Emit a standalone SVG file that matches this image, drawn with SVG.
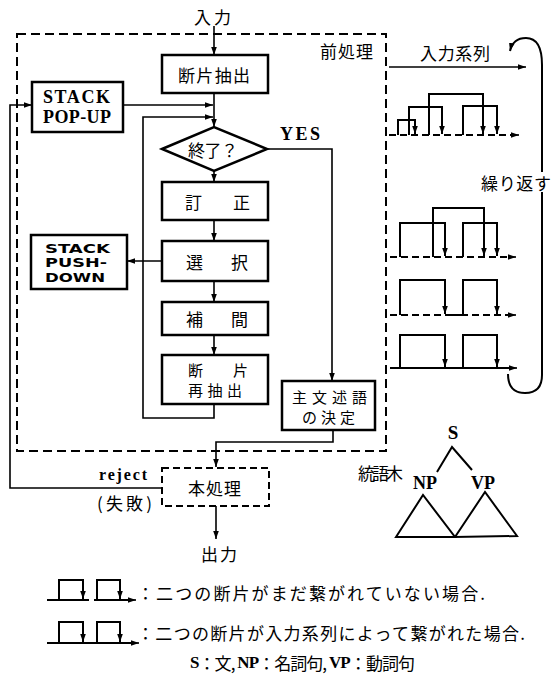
<svg xmlns="http://www.w3.org/2000/svg" width="552" height="677" viewBox="0 0 552 677">
<defs>
<marker id="ah" viewBox="0 0 10 10" refX="10" refY="5" markerWidth="8" markerHeight="8" markerUnits="userSpaceOnUse" orient="auto"><path d="M0,1.5 L10,5 L0,8.5 z" fill="#000"/></marker>
</defs>
<style>
.box{fill:#fff;stroke:#000;stroke-width:2.5}
.dbox{fill:none;stroke:#000;stroke-width:2;stroke-dasharray:9 5}
.ln{fill:none;stroke:#000;stroke-width:1.6}
.br{fill:none;stroke:#000;stroke-width:2}
.dl{fill:none;stroke:#000;stroke-width:2;stroke-dasharray:7 4}
.jp{font-family:"Noto Sans CJK JP",sans-serif;font-size:17px;fill:#000;dominant-baseline:central}
.jp2{font-family:"Noto Sans CJK JP",sans-serif;font-size:15px;fill:#000;dominant-baseline:central}
.en{font-family:"Liberation Serif",serif;font-weight:bold;fill:#000}
.ent{font-family:"Liberation Serif",serif;font-weight:bold}
.gs{font-family:"DejaVu Sans",sans-serif;font-weight:bold;font-size:13px;fill:#000}
</style>
<rect width="552" height="677" fill="#fff"/>

<g id="preprocess-frame">
<rect class="dbox" x="17" y="34" width="369" height="417"/>
<text class="jp" x="320" y="50" textLength="53">前処理</text>
</g>

<g id="connectors">
<path class="ln" d="M214,26 V55" marker-end="url(#ah)"/>
<path class="ln" d="M214,93 V127" marker-end="url(#ah)"/>
<path class="ln" d="M123,105 H213" marker-end="url(#ah)"/>
<path class="ln" d="M214,404 V418 H143 V117 H213" marker-end="url(#ah)"/>
<path class="ln" d="M214,171 V182" marker-end="url(#ah)"/>
<path class="ln" d="M214,220 V241" marker-end="url(#ah)"/>
<path class="ln" d="M214,281 V302" marker-end="url(#ah)"/>
<path class="ln" d="M214,335 V355" marker-end="url(#ah)"/>
<path class="ln" d="M163,261 H127" marker-end="url(#ah)"/>
<path class="ln" d="M267,149 H332 V381" marker-end="url(#ah)"/>
<path class="ln" d="M333,430 V442 H216 V467" marker-end="url(#ah)"/>
<path class="ln" d="M216,506 V539" marker-end="url(#ah)"/>
<path class="ln" d="M162,488 H10 V105 H32" marker-end="url(#ah)"/>
<path class="ln" d="M389,67 H526" marker-end="url(#ah)"/>
<path class="br" d="M542,172 V65 Q542,38 526,38 Q513,38 510,51" marker-end="url(#ah)"/>
<path class="br" d="M542,192 V375 Q542,393 525,393 Q508,393 508,374"/>
</g>

<g id="input-top"><text class="jp" x="194" y="16" textLength="37">入力</text></g>

<g id="node-extract">
<rect class="box" x="162" y="55" width="106" height="38"/>
<text class="jp" x="178" y="74" textLength="72">断片抽出</text>
</g>

<g id="node-popup">
<rect class="box" x="32" y="82" width="91" height="50"/>
<text class="en" x="43" y="103" font-size="18" textLength="67">STACK</text>
<text class="en" x="43" y="123" font-size="18" textLength="68">POP-UP</text>
</g>

<g id="node-end">
<polygon class="box" points="162,149 214,127 267,149 214,171"/>
<text class="jp" x="188" y="149" textLength="50">終了？</text>
</g>

<g id="label-yes"><text class="en" x="280" y="140" font-size="18" textLength="40">YES</text></g>

<g id="node-correct">
<rect class="box" x="162" y="182" width="106" height="38"/>
<text class="jp" x="185" y="201" textLength="65">訂　正</text>
</g>

<g id="node-select">
<rect class="box" x="162" y="241" width="106" height="40"/>
<text class="jp" x="186" y="261" textLength="62">選　択</text>
</g>

<g id="node-pushdown">
<rect class="box" x="31" y="235" width="96" height="54"/>
<text class="gs" x="45" y="253" textLength="65" lengthAdjust="spacingAndGlyphs">STACK</text>
<text class="gs" x="45" y="267" textLength="62" lengthAdjust="spacingAndGlyphs">PUSH-</text>
<text class="gs" x="45" y="282" textLength="60" lengthAdjust="spacingAndGlyphs">DOWN</text>
</g>

<g id="node-interp">
<rect class="box" x="162" y="302" width="106" height="33"/>
<text class="jp" x="186" y="318" textLength="62">補　間</text>
</g>

<g id="node-reextract">
<rect class="box" x="162" y="355" width="106" height="49"/>
<text class="jp2" x="188" y="369" textLength="60">断　片</text>
<text class="jp2" x="188" y="389" textLength="54">再抽出</text>
</g>

<g id="node-predicate">
<rect class="box" x="282" y="381" width="93" height="49"/>
<text class="jp2" x="292" y="396" textLength="75">主文述語</text>
<text class="jp2" x="302" y="416" textLength="53">の決定</text>
</g>

<g id="node-main">
<rect class="dbox" x="162" y="468" width="107" height="38" style="stroke-dasharray:7 4"/>
<text class="jp" x="188" y="487" textLength="53">本処理</text>
</g>

<g id="label-reject">
<text class="en" x="99" y="480" font-size="16" textLength="48">reject</text>
<text class="jp" x="97" y="502" textLength="55">(失敗)</text>
</g>

<g id="output"><text class="jp" x="201" y="553" textLength="36">出力</text></g>

<g id="label-series"><text class="jp" x="420" y="52" textLength="70">入力系列</text></g>
<g id="label-repeat"><text class="jp" x="481" y="182" textLength="70">繰り返す</text></g>

<g id="sequences">
<path class="dl" d="M389,135 H512"/>
<path class="ln" d="M512,135 H519" marker-end="url(#ah)"/>
<path class="br" d="M398,135 V120 H415 V134" marker-end="url(#ah)"/>
<path class="br" d="M409,135 V107 H442 V134" marker-end="url(#ah)"/>
<path class="br" d="M429,135 V94 H483 V134" marker-end="url(#ah)"/>
<path class="br" d="M463,135 V106 H497 V134" marker-end="url(#ah)"/>

<path class="dl" d="M390,257 H510"/>
<path class="ln" d="M508,257 H516" marker-end="url(#ah)"/>
<path class="br" d="M400,257 V223 H445 V256" marker-end="url(#ah)"/>
<path class="br" d="M433,257 V208 H484 V256" marker-end="url(#ah)"/>
<path class="br" d="M463,257 V223 H497 V256" marker-end="url(#ah)"/>

<path class="dl" d="M390,315 H445"/>
<path class="br" d="M445,315 H468"/>
<path class="dl" d="M472,315 H510"/>
<path class="ln" d="M508,315 H516" marker-end="url(#ah)"/>
<path class="br" d="M400,315 V280 H445 V314" marker-end="url(#ah)"/>
<path class="br" d="M463,315 V280 H497 V314" marker-end="url(#ah)"/>

<path class="br" d="M390,368 H510"/>
<path class="ln" d="M508,368 H517" marker-end="url(#ah)"/>
<path class="br" d="M400,368 V335 H445 V367" marker-end="url(#ah)"/>
<path class="br" d="M463,368 V335 H497 V367" marker-end="url(#ah)"/>
</g>

<g id="syntax-tree">
<text class="jp" x="358" y="472" textLength="45">統語木</text>
<text class="en" x="453" y="439" font-size="19" text-anchor="middle">S</text>
<text class="en" x="425" y="489" font-size="18" text-anchor="middle">NP</text>
<text class="en" x="483" y="489" font-size="18" text-anchor="middle">VP</text>
<path class="br" d="M437,472 L452,447 L472,470"/>
<path class="br" d="M396,537 L423,495 L455,537 Z"/>
<path class="br" d="M455,537 L485,492 L517,536 Z"/>
</g>

<g id="legend">
<path class="br" d="M47,600 H89 M94,600 H130"/>
<path class="ln" d="M128,600 H136" marker-end="url(#ah)"/>
<path class="br" d="M59,600 V580 H83 V599" marker-end="url(#ah)"/>
<path class="br" d="M97,600 V580 H120 V599" marker-end="url(#ah)"/>
<text class="jp" x="137" y="592" textLength="348">：二つの断片がまだ繋がれていない場合.</text>

<path class="br" d="M47,643 H132"/>
<path class="ln" d="M130,643 H139" marker-end="url(#ah)"/>
<path class="br" d="M59,643 V622 H83 V642" marker-end="url(#ah)"/>
<path class="br" d="M97,643 V622 H120 V642" marker-end="url(#ah)"/>
<text class="jp" x="137" y="632" textLength="388">：二つの断片が入力系列によって繋がれた場合.</text>

<text class="jp" x="190" y="662" textLength="225"><tspan class="ent">S</tspan>：文, <tspan class="ent">NP</tspan>：名詞句, <tspan class="ent">VP</tspan>：動詞句</text>
</g>
</svg>
